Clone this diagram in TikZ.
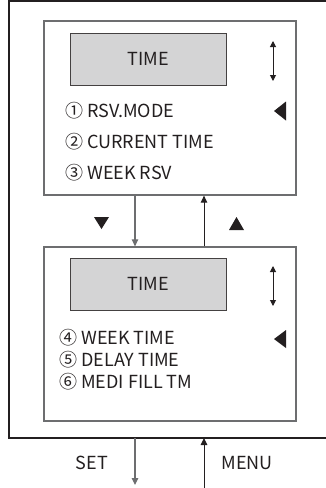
\documentclass[tikz,border=0pt]{standalone}
\usepackage{fontspec}
\setmainfont{Noto Sans CJK KR}
\usetikzlibrary{arrows.meta}
\definecolor{frame}{HTML}{231F20}
\definecolor{panelline}{HTML}{6D6E70}
\definecolor{lcd}{HTML}{D4D4D5}
\tikzset{
  x=1pt, y=-1pt,
  outer/.style={line width=2pt, draw=frame},
  panel/.style={draw=panelline, line width=1.3pt, fill=white},
  lcdbox/.style={draw=frame!85, line width=1pt, fill=lcd, inner sep=0pt},
  txt/.style={font=\fontsize{18}{20}\selectfont, text=frame, inner sep=0pt},
  item/.style={txt, anchor=base west},
  tip/.style={-{Triangle[length=7pt,width=6.5pt]}},
  flowdn/.style={tip, draw=panelline, line width=1.2pt},
  flowup/.style={tip, draw=frame, line width=1pt},
  scroll/.style={{Triangle[length=6pt,width=6pt]}-{Triangle[length=6pt,width=6pt]}, draw=frame, line width=1pt},
  pointer/.style={fill=frame, draw=none}
}
\begin{document}
\begin{tikzpicture}
\useasboundingbox (0,0) rectangle (326,488);

% outer frame, open on the right
\draw[outer] (330,1) -- (9,1) -- (9,438) -- (330,438);

% upper menu page
\node[panel, minimum width=252pt, minimum height=174pt, inner sep=0pt] (p1) at (170,108) {};
\node[lcdbox, minimum width=156pt, minimum height=52pt] (lcd1) at (148,59) {};
\node[txt] (t1) at (lcd1.center) {TIME};
\coordinate (s1a) at (273,41);
\coordinate (s1b) at (273,81);
\draw[scroll] (s1a) -- (s1b);
\node[item] (i1) at (65,117) {① RSV.MODE};
\node[item] (i2) at (65,148) {② CURRENT TIME};
\node[item] (i3) at (65,179) {③ WEEK RSV};
\fill[pointer] (274,111) -- (286,101.5) -- (286,120.5) -- cycle;

% lower menu page
\node[panel, minimum width=252pt, minimum height=174pt, inner sep=0pt] (p2) at (170,334) {};
\node[lcdbox, minimum width=156pt, minimum height=52pt] (lcd2) at (148,284) {};
\node[txt] (t2) at (lcd2.center) {TIME};
\coordinate (s2a) at (273,266);
\coordinate (s2b) at (273,306);
\draw[scroll] (s2a) -- (s2b);
\node[item] (i4) at (59,344.5) {④ WEEK TIME};
\node[item] (i5) at (59,366) {⑤ DELAY TIME};
\node[item] (i6) at (59,388) {⑥ MEDI FILL TM};
\fill[pointer] (274,339) -- (286,330) -- (286,348) -- cycle;

% paging between the two pages
\coordinate (dn) at (135,0);
\coordinate (up) at (204,0);
\draw[flowdn] (p1.south -| dn) -- (p2.north -| dn);
\draw[flowup] (p2.north -| up) -- (p1.south -| up);
\fill[pointer] (94,217) -- (109,217) -- (101.5,229) -- cycle;
\fill[pointer] (229,230) -- (244,230) -- (236.5,217) -- cycle;

% keys below the frame
\coordinate (setend) at (135,485);
\coordinate (menustart) at (204,488);
\coordinate (frameset) at (135,438);
\coordinate (framemenu) at (204,438);
\draw[flowdn] (frameset) -- (setend);
\draw[flowup] (menustart) -- (framemenu);
\node[txt] (set) at (92,463) {SET};
\node[txt] (menu) at (247,463) {MENU};
\end{tikzpicture}
\end{document}
